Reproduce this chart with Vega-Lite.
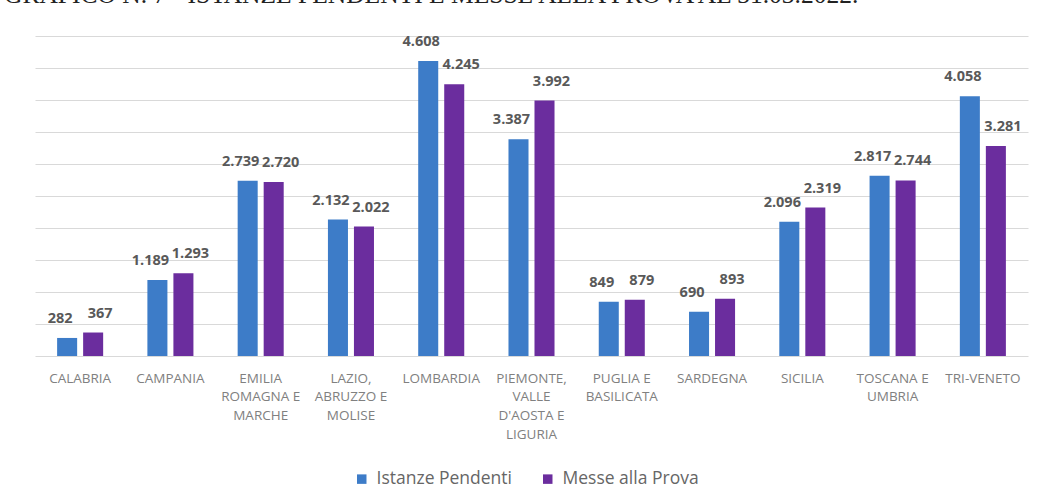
{
  "$schema": "https://vega.github.io/schema/vega-lite/v6.json",
  "autosize": "none",
  "width": 993,
  "height": 320,
  "padding": {"left": 35, "top": 36, "right": 14, "bottom": 145},
  "background": "white",
  "title": {
    "text": "GRAFICO N. 7 - ISTANZE PENDENTI E MESSE ALLA PROVA AL 31.03.2022.",
    "anchor": "start",
    "frame": "group",
    "dx": -31,
    "offset": 6,
    "baseline": "alphabetic",
    "font": "Liberation Serif",
    "fontSize": 25.5,
    "fontWeight": "normal",
    "color": "#222222"
  },
  "data": {
    "values": [
      {"regione": "CALABRIA", "serie": "Istanze Pendenti", "valore": 282},
      {"regione": "CALABRIA", "serie": "Messe alla Prova", "valore": 367},
      {"regione": "CAMPANIA", "serie": "Istanze Pendenti", "valore": 1189},
      {"regione": "CAMPANIA", "serie": "Messe alla Prova", "valore": 1293},
      {"regione": "EMILIA|ROMAGNA E|MARCHE", "serie": "Istanze Pendenti", "valore": 2739},
      {"regione": "EMILIA|ROMAGNA E|MARCHE", "serie": "Messe alla Prova", "valore": 2720},
      {"regione": "LAZIO,|ABRUZZO E|MOLISE", "serie": "Istanze Pendenti", "valore": 2132},
      {"regione": "LAZIO,|ABRUZZO E|MOLISE", "serie": "Messe alla Prova", "valore": 2022},
      {"regione": "LOMBARDIA", "serie": "Istanze Pendenti", "valore": 4608},
      {"regione": "LOMBARDIA", "serie": "Messe alla Prova", "valore": 4245},
      {"regione": "PIEMONTE,|VALLE|D'AOSTA E|LIGURIA", "serie": "Istanze Pendenti", "valore": 3387},
      {"regione": "PIEMONTE,|VALLE|D'AOSTA E|LIGURIA", "serie": "Messe alla Prova", "valore": 3992},
      {"regione": "PUGLIA E|BASILICATA", "serie": "Istanze Pendenti", "valore": 849},
      {"regione": "PUGLIA E|BASILICATA", "serie": "Messe alla Prova", "valore": 879},
      {"regione": "SARDEGNA", "serie": "Istanze Pendenti", "valore": 690},
      {"regione": "SARDEGNA", "serie": "Messe alla Prova", "valore": 893},
      {"regione": "SICILIA", "serie": "Istanze Pendenti", "valore": 2096},
      {"regione": "SICILIA", "serie": "Messe alla Prova", "valore": 2319},
      {"regione": "TOSCANA E|UMBRIA", "serie": "Istanze Pendenti", "valore": 2817},
      {"regione": "TOSCANA E|UMBRIA", "serie": "Messe alla Prova", "valore": 2744},
      {"regione": "TRI-VENETO", "serie": "Istanze Pendenti", "valore": 4058},
      {"regione": "TRI-VENETO", "serie": "Messe alla Prova", "valore": 3281}
    ]
  },
  "encoding": {
    "x": {
      "field": "regione",
      "type": "nominal",
      "sort": null,
      "scale": {"paddingInner": 0.49, "paddingOuter": 0.245},
      "axis": {
        "title": null,
        "labelAngle": 0,
        "labelExpr": "split(datum.label, '|')",
        "labelFont": "Open Sans",
        "labelFontSize": 13.5,
        "labelColor": "#808080",
        "labelLineHeight": 18.7,
        "labelPadding": 15,
        "labelBaseline": "top",
        "ticks": false,
        "domain": false
      }
    },
    "xOffset": {"field": "serie", "type": "nominal", "scale": {"paddingInner": 0.23}},
    "y": {
      "field": "valore",
      "type": "quantitative",
      "scale": {"domain": [0, 5000]},
      "axis": {
        "title": null,
        "labels": false,
        "ticks": false,
        "domain": false,
        "values": [0, 500, 1000, 1500, 2000, 2500, 3000, 3500, 4000, 4500, 5000],
        "gridColor": "#d9d9d9",
        "gridWidth": 1
      }
    }
  },
  "layer": [
    {
      "mark": {"type": "bar"},
      "encoding": {
        "color": {
          "field": "serie",
          "type": "nominal",
          "scale": {"domain": ["Istanze Pendenti", "Messe alla Prova"], "range": ["#3d7cc8", "#6b2d9e"]},
          "legend": {
            "title": null,
            "orient": "none",
            "legendX": 318,
            "legendY": 434,
            "direction": "horizontal",
            "symbolType": "square",
            "symbolSize": 90,
            "symbolStrokeWidth": 0,
            "labelFont": "Open Sans",
            "labelFontSize": 17.5,
            "labelColor": "#666666",
            "labelOffset": 6,
            "columnPadding": 26
          }
        }
      }
    },
    {
      "transform": [{"filter": "datum.serie === 'Istanze Pendenti'"}],
      "mark": {"type": "text", "baseline": "alphabetic", "dy": -15, "dx": -7, "font": "Open Sans", "fontSize": 14.5, "fontWeight": "bold", "color": "#595959"},
      "encoding": {
        "text": {"field": "valore", "type": "quantitative", "format": ",d"}
      }
    },
    {
      "transform": [{"filter": "datum.serie === 'Messe alla Prova'"}],
      "mark": {"type": "text", "baseline": "alphabetic", "dy": -15, "dx": 7, "font": "Open Sans", "fontSize": 14.5, "fontWeight": "bold", "color": "#595959"},
      "encoding": {
        "text": {"field": "valore", "type": "quantitative", "format": ",d"}
      }
    }
  ],
  "config": {
    "locale": {"number": {"decimal": ",", "thousands": ".", "grouping": [3], "currency": ["€", ""]}},
    "view": {"stroke": null}
  }
}
